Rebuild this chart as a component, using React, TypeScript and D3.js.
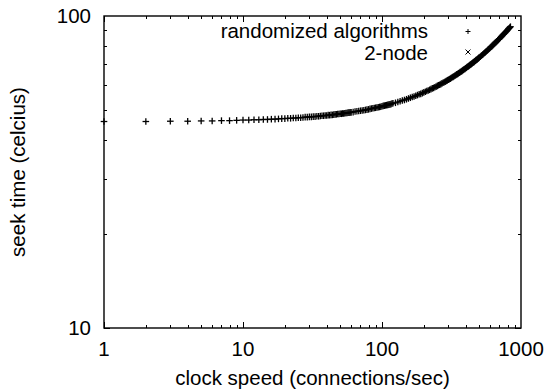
import * as d3 from "d3";
import React, { useEffect, useRef } from "react";

// x values (connections/sec) and seek time
const clockSpeed = [
  1, 2, 3, 4, 5, 6, 7, 8, 9, 10, 11, 12, 13, 14, 15, 16, 17, 18, 19, 20,
  21, 22, 23, 24, 25, 26, 27, 28, 29, 30, 31, 32, 33, 34, 35, 36, 37, 38, 39, 40,
  41, 42, 43, 44, 45, 46, 47, 48, 49, 50, 51, 52, 53, 54, 55, 56, 57, 58, 59, 60,
  62, 64, 66, 68, 70, 72, 74, 76, 78, 80, 82, 84, 86, 88, 90, 92, 94, 96, 98, 100,
  102, 104, 106, 108, 110, 112, 114, 116, 118, 120,
  125, 130, 135, 140, 145, 150, 155, 160, 165, 170, 175, 180, 185, 190, 195, 200,
  205, 210, 215, 220, 225, 230, 235, 240, 245, 250, 255, 260, 265, 270, 275, 280,
  285, 290, 295, 300, 305, 310, 315, 320, 325, 330, 335, 340, 345, 350, 355, 360,
  365, 370, 375, 380, 385, 390, 395, 400, 405, 410, 415, 420, 425, 430, 435, 440,
  445, 450, 455, 460, 465, 470, 475, 480, 485, 490, 495, 500,
  510, 520, 530, 540, 550, 560, 570, 580, 590, 600, 610, 620, 630, 640, 650, 660,
  670, 680, 690, 700, 710, 720, 730, 740, 750, 760, 770, 780, 790, 800, 810, 820,
  830, 840,
];
const seekTime = [
  45.9, 45.9, 46.0, 46.0, 46.1, 46.1, 46.2, 46.2, 46.3, 46.4, 46.4, 46.5, 46.5, 46.6, 46.6, 46.7, 46.7, 46.8, 46.9, 46.9,
  47.0, 47.0, 47.1, 47.1, 47.2, 47.2, 47.3, 47.4, 47.4, 47.5, 47.5, 47.6, 47.6, 47.7, 47.7, 47.8, 47.9, 47.9, 48.0, 48.0,
  48.1, 48.1, 48.2, 48.2, 48.3, 48.4, 48.4, 48.5, 48.5, 48.6, 48.6, 48.7, 48.7, 48.8, 48.9, 48.9, 49.0, 49.0, 49.1, 49.1,
  49.2, 49.4, 49.5, 49.6, 49.7, 49.8, 49.9, 50.0, 50.1, 50.2, 50.4, 50.5, 50.6, 50.7, 50.8, 50.9, 51.0, 51.1, 51.2, 51.4,
  51.5, 51.6, 51.7, 51.8, 51.9, 52.0, 52.1, 52.2, 52.4, 52.5,
  52.7, 53.0, 53.3, 53.6, 53.8, 54.1, 54.4, 54.7, 55.0, 55.2, 55.5, 55.8, 56.1, 56.3, 56.6, 56.9,
  57.2, 57.5, 57.7, 58.0, 58.3, 58.6, 58.8, 59.1, 59.4, 59.7, 60.0, 60.2, 60.5, 60.8, 61.1, 61.3,
  61.6, 61.9, 62.2, 62.5, 62.7, 63.0, 63.3, 63.6, 63.8, 64.1, 64.4, 64.7, 65.0, 65.2, 65.5, 65.8,
  66.1, 66.3, 66.6, 66.9, 67.2, 67.5, 67.7, 68.0, 68.3, 68.6, 68.8, 69.1, 69.4, 69.7, 69.9, 70.2,
  70.5, 70.8, 71.1, 71.3, 71.6, 71.9, 72.2, 72.4, 72.7, 73.0, 73.3, 73.6,
  74.1, 74.7, 75.2, 75.8, 76.3, 76.9, 77.4, 78.0, 78.5, 79.1, 79.7, 80.2, 80.8, 81.3, 81.9, 82.4,
  83.0, 83.5, 84.1, 84.6, 85.2, 85.8, 86.3, 86.9, 87.4, 88.0, 88.5, 89.1, 89.6, 90.2, 90.8, 91.3,
  91.9, 92.4,
];

const xTicks = [1, 10, 100, 1000];
const yTicks = [10, 100];
const seriesNames = ["randomized algorithms", "2-node"];

export default function App() {
  const svgRef = useRef(null);
  const width = 549;
  const height = 390;
  const margin = { top: 16, right: 28, bottom: 62, left: 104 };
  const font = "'Liberation Sans', Arial, Helvetica, sans-serif";
  const fs = 20.5;

  useEffect(() => {
    const svgEl = d3.select(svgRef.current);
    svgEl.selectAll("*").remove();

    const x_scale = d3
      .scaleLog()
      .domain([1, 1000])
      .range([margin.left, width - margin.right]);
    const y_scale = d3
      .scaleLog()
      .domain([10, 100])
      .range([height - margin.bottom, margin.top]);

    const x0 = margin.left;
    const x1 = width - margin.right;
    const y0 = height - margin.bottom;
    const y1 = margin.top;

    const ticks = svgEl.append("g").attr("stroke", "#000").attr("stroke-width", 1);

    // x ticks, bottom and top (major + minor)
    for (let dec = 1; dec < 1000; dec *= 10) {
      for (let m = 1; m <= 9; m++) {
        const v = dec * m;
        const len = m === 1 ? 6 : 3;
        const px = Math.round(x_scale(v)) + 0.5;
        ticks.append("line").attr("x1", px).attr("x2", px).attr("y1", y0).attr("y2", y0 - len);
        ticks.append("line").attr("x1", px).attr("x2", px).attr("y1", y1).attr("y2", y1 + len);
      }
    }
    // y ticks, left and right
    for (let m = 1; m <= 9; m++) {
      const v = 10 * m;
      const len = m === 1 ? 6 : 3;
      const py = Math.round(y_scale(v)) + 0.5;
      ticks.append("line").attr("x1", x0).attr("x2", x0 + len).attr("y1", py).attr("y2", py);
      ticks.append("line").attr("x1", x1).attr("x2", x1 - len).attr("y1", py).attr("y2", py);
    }

    // frame
    svgEl
      .append("rect")
      .attr("x", x0)
      .attr("y", y1)
      .attr("width", x1 - x0)
      .attr("height", y0 - y1)
      .attr("fill", "none")
      .attr("stroke", "#000")
      .attr("stroke-width", 1.4);

    // tick labels
    svgEl
      .selectAll("text.xt")
      .data(xTicks)
      .enter()
      .append("text")
      .attr("x", (d) => x_scale(d))
      .attr("y", 356)
      .attr("text-anchor", "middle")
      .attr("font-family", font)
      .attr("font-size", fs)
      .text((d) => String(d));

    svgEl
      .selectAll("text.yt")
      .data(yTicks)
      .enter()
      .append("text")
      .attr("x", x0 - 13)
      .attr("y", (d) => y_scale(d) + 7)
      .attr("text-anchor", "end")
      .attr("font-family", font)
      .attr("font-size", fs)
      .text((d) => String(d));

    // axis titles
    svgEl
      .append("text")
      .attr("x", (x0 + x1) / 2)
      .attr("y", 385)
      .attr("text-anchor", "middle")
      .attr("font-family", font)
      .attr("font-size", fs)
      .text("clock speed (connections/sec)");

    svgEl
      .append("text")
      .attr("transform", "translate(25," + (y0 + y1) / 2 + ")rotate(-90)")
      .attr("text-anchor", "middle")
      .attr("font-family", font)
      .attr("font-size", fs)
      .text("seek time (celcius)");

    // data points (+)
    const s = 3.3;
    const pts = svgEl.append("g").attr("stroke", "#000").attr("stroke-width", 1.3);
    clockSpeed.forEach((c, i) => {
      const px = x_scale(c);
      const py = y_scale(seekTime[i]);
      pts.append("line").attr("x1", px - s).attr("x2", px + s).attr("y1", py).attr("y2", py);
      pts.append("line").attr("x1", px).attr("x2", px).attr("y1", py - s).attr("y2", py + s);
    });

    // legend
    const lg = svgEl.append("g");
    const legendY = [38, 60];
    seriesNames.forEach((name, i) => {
      lg.append("text")
        .attr("x", 428)
        .attr("y", legendY[i])
        .attr("text-anchor", "end")
        .attr("font-family", font)
        .attr("font-size", fs)
        .text(name);
    });
    const mx = 468;
    const ms = 2.5;
    lg.append("path")
      .attr("d", `M${mx - ms},31.5H${mx + ms}M${mx},${31.5 - ms}V${31.5 + ms}`)
      .attr("stroke", "#000")
      .attr("stroke-width", 1);
    lg.append("path")
      .attr("d", `M${mx - ms},${52 - ms}L${mx + ms},${52 + ms}M${mx - ms},${52 + ms}L${mx + ms},${52 - ms}`)
      .attr("stroke", "#000")
      .attr("stroke-width", 1);
  });

  return (
    <svg
      width={width}
      height={height}
      ref={svgRef}
      style={{ position: "absolute", left: 0, top: 0, background: "#fff" }}
    ></svg>
  );
}
